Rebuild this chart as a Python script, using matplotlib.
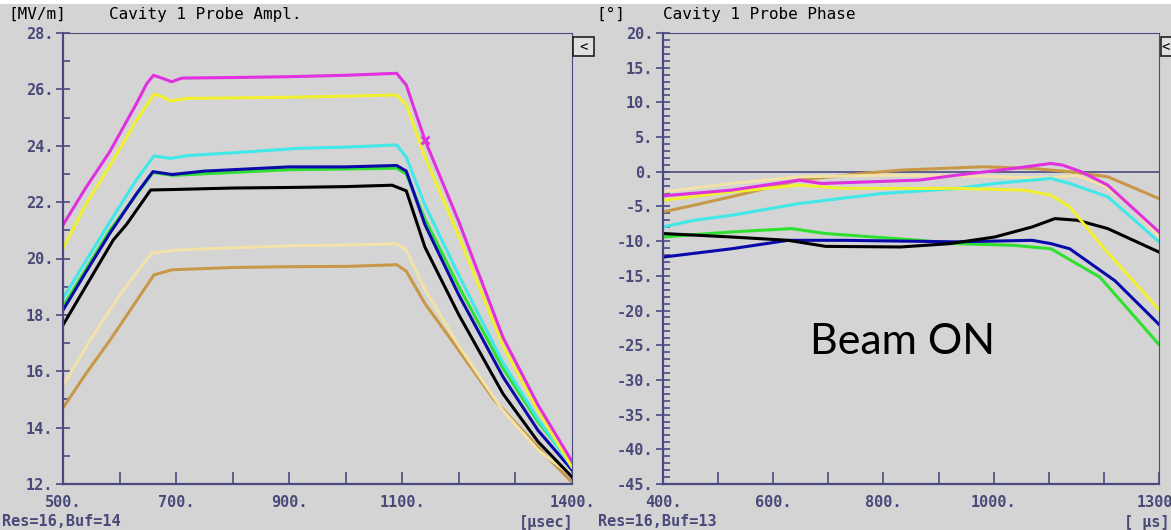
import matplotlib as mpl
mpl.use('Agg')
import matplotlib.pyplot as plt
from matplotlib.patches import Rectangle

# ---- left panel: Cavity 1 Probe Ampl. [MV/m] vs time [usec]
amp_tan_t = [500, 540, 583, 620, 661, 693, 800, 900, 1000, 1090, 1107, 1140, 1187, 1262, 1340, 1400]
amp_tan_v = [14.7, 15.9, 17.1, 18.2, 19.42, 19.6, 19.68, 19.71, 19.72, 19.78, 19.55, 18.4, 17.1, 15.0, 13.3, 12.06]
amp_pale_t = [500, 548, 600, 657, 700, 800, 900, 1000, 1090, 1107, 1140, 1200, 1278, 1340, 1400]
amp_pale_v = [15.5, 17.1, 18.7, 20.19, 20.3, 20.38, 20.45, 20.48, 20.52, 20.3, 18.9, 16.9, 14.6, 13.2, 12.3]
amp_black_t = [500, 540, 589, 612, 655, 700, 800, 900, 1000, 1082, 1107, 1140, 1200, 1278, 1340, 1400]
amp_black_v = [17.64, 19.0, 20.66, 21.2, 22.43, 22.45, 22.5, 22.52, 22.55, 22.6, 22.4, 20.4, 18.0, 15.2, 13.5, 12.25]
amp_green_t = [500, 583, 659, 693, 900, 1090, 1107, 1140, 1200, 1278, 1340, 1400]
amp_green_v = [18.3, 21.0, 23.05, 22.95, 23.15, 23.2, 23.0, 21.4, 19.0, 16.1, 14.2, 12.7]
amp_blue_t = [500, 540, 583, 630, 659, 693, 750, 900, 1000, 1090, 1107, 1140, 1200, 1278, 1340, 1400]
amp_blue_v = [18.17, 19.5, 20.9, 22.3, 23.08, 22.98, 23.1, 23.25, 23.25, 23.3, 23.1, 21.2, 18.7, 15.8, 13.9, 12.5]
amp_cyan_t = [500, 540, 583, 630, 661, 690, 720, 800, 919, 1000, 1090, 1107, 1140, 1200, 1278, 1340, 1400]
amp_cyan_v = [18.59, 19.9, 21.3, 22.8, 23.64, 23.55, 23.65, 23.75, 23.91, 23.95, 24.03, 23.6, 21.9, 19.4, 16.3, 14.3, 12.6]
amp_yellow_t = [500, 540, 583, 630, 661, 675, 689, 720, 900, 1000, 1090, 1107, 1140, 1200, 1278, 1340, 1400]
amp_yellow_v = [20.36, 21.9, 23.3, 24.9, 25.83, 25.75, 25.59, 25.68, 25.72, 25.76, 25.8, 25.45, 23.6, 20.8, 16.9, 14.6, 12.6]
amp_magenta_t = [500, 540, 583, 630, 648, 660, 675, 692, 710, 800, 900, 1000, 1090, 1107, 1140, 1200, 1278, 1340, 1400]
amp_magenta_v = [21.19, 22.5, 23.8, 25.5, 26.2, 26.5, 26.4, 26.27, 26.4, 26.42, 26.45, 26.5, 26.57, 26.15, 24.2, 21.3, 17.2, 14.8, 12.8]
cursor_t = 1140
cursor_v = 24.2

# ---- right panel: Cavity 1 Probe Phase [deg] vs time [us]
ph_tan_t = [400, 456, 524, 647, 763, 831, 981, 1070, 1138, 1207, 1300]
ph_tan_v = [-5.78, -4.82, -3.6, -1.2, -0.24, 0.24, 0.72, 0.48, 0.0, -0.72, -3.86]
ph_pale_t = [400, 524, 647, 800, 950, 1100, 1150, 1200, 1250, 1300]
ph_pale_v = [-2.9, -1.69, -0.72, -0.5, -0.6, -0.9, -0.5, -2.0, -5.0, -9.3]
ph_black_t = [400, 524, 627, 695, 831, 920, 1002, 1070, 1111, 1152, 1207, 1300]
ph_black_v = [-8.9, -9.4, -9.88, -10.75, -10.84, -10.36, -9.4, -7.95, -6.75, -6.99, -8.19, -11.57]
ph_green_t = [400, 524, 633, 695, 865, 934, 1036, 1104, 1193, 1300]
ph_green_v = [-9.4, -8.67, -8.19, -8.9, -9.88, -10.36, -10.6, -11.1, -15.2, -24.9]
ph_blue_t = [400, 524, 627, 729, 934, 1070, 1104, 1138, 1220, 1300]
ph_blue_v = [-12.3, -11.1, -9.88, -9.88, -10.1, -9.88, -10.36, -11.1, -15.7, -22.0]
ph_cyan_t = [400, 456, 524, 647, 797, 934, 1002, 1104, 1138, 1207, 1300]
ph_cyan_v = [-7.95, -7.0, -6.27, -4.58, -3.13, -2.41, -1.69, -0.96, -1.69, -3.61, -10.1]
ph_yellow_t = [400, 524, 647, 729, 934, 1056, 1104, 1138, 1200, 1300]
ph_yellow_v = [-4.1, -2.9, -1.93, -2.4, -2.4, -2.65, -3.37, -5.06, -11.0, -19.9]
ph_magenta_t = [400, 524, 647, 688, 865, 934, 1036, 1104, 1125, 1159, 1207, 1300]
ph_magenta_v = [-3.47, -2.65, -1.2, -1.69, -1.2, -0.48, 0.48, 1.2, 0.96, 0.0, -1.93, -8.67]

amp_xlabels = {500: '500.', 700: '700.', 900: '900.', 1100: '1100.', 1400: '1400.'}
ph_xlabels = {400: '400.', 600: '600.', 800: '800.', 1000: '1000.', 1300: '1300.'}

colors = {
    'tan': '#c89848', 'pale': '#f2e2a8', 'black': '#000000', 'green': '#30e030',
    'blue': '#0a0aa8', 'cyan': '#40e8e8', 'yellow': '#f0f030', 'magenta': '#e030e0',
}

bg = '#d4d4d4'
frame = '#4a4a80'
tickc = '#4a4a7a'
mono = 'DejaVu Sans Mono'

W, H = 1171, 530
fig = plt.figure(figsize=(W / 100, H / 100), dpi=100, facecolor=bg)

ax1 = fig.add_axes([63 / W, 46 / H, 509 / W, 451 / H])
ax2 = fig.add_axes([663 / W, 46 / H, 496 / W, 451 / H])


def style_axes(ax, xlim, ylim, xlabels, ymajor, ystep):
    ax.set_facecolor(bg)
    ax.set_xlim(*xlim)
    ax.set_ylim(*ylim)
    for s in ['left', 'bottom']:
        ax.spines[s].set_linewidth(1.6)
        ax.spines[s].set_color(frame)
    for s in ['top', 'right']:
        ax.spines[s].set_linewidth(0.8)
        ax.spines[s].set_color(frame)
    xt = list(range(xlim[0], xlim[1] + 1, 100))
    ax.set_xticks(xt, [xlabels.get(t, '') for t in xt])
    yt = list(range(ylim[0], ylim[1] + 1, ymajor))
    ax.set_yticks(yt, ['%d.' % v for v in yt])
    ax.set_yticks(list(range(ylim[0], ylim[1] + 1, ystep)), minor=True)
    ax.tick_params(axis='x', direction='in', length=9, width=1.2, color=frame,
                   labelsize=11, labelcolor=tickc, pad=8)
    ax.tick_params(axis='y', which='major', direction='inout', length=10, width=1.2,
                   color=frame, labelsize=11, labelcolor=tickc, pad=2)
    ax.tick_params(axis='y', which='minor', direction='in', length=5, width=1.2, color=frame)
    for lab in ax.get_xticklabels() + ax.get_yticklabels():
        lab.set_fontfamily(mono)
        lab.set_fontweight('bold')


style_axes(ax1, (500, 1400), (12, 28), amp_xlabels, 2, 1)
style_axes(ax2, (400, 1300), (-45, 20), ph_xlabels, 5, 1)

lw = 2.2
ax1.plot(amp_tan_t, amp_tan_v, color=colors['tan'], lw=lw)
ax1.plot(amp_pale_t, amp_pale_v, color=colors['pale'], lw=lw)
ax1.plot(amp_black_t, amp_black_v, color=colors['black'], lw=lw)
ax1.plot(amp_green_t, amp_green_v, color=colors['green'], lw=lw)
ax1.plot(amp_blue_t, amp_blue_v, color=colors['blue'], lw=lw)
ax1.plot(amp_cyan_t, amp_cyan_v, color=colors['cyan'], lw=lw)
ax1.plot(amp_yellow_t, amp_yellow_v, color=colors['yellow'], lw=lw)
ax1.plot(amp_magenta_t, amp_magenta_v, color=colors['magenta'], lw=lw)
ax1.plot([cursor_t], [cursor_v], marker='x', color=colors['magenta'], ms=6, mew=2)

ax2.axhline(0, color=frame, lw=1.2, zorder=1)
ax2.plot(ph_tan_t, ph_tan_v, color=colors['tan'], lw=lw)
ax2.plot(ph_pale_t, ph_pale_v, color=colors['pale'], lw=lw)
ax2.plot(ph_green_t, ph_green_v, color=colors['green'], lw=lw)
ax2.plot(ph_blue_t, ph_blue_v, color=colors['blue'], lw=lw)
ax2.plot(ph_black_t, ph_black_v, color=colors['black'], lw=lw)
ax2.plot(ph_cyan_t, ph_cyan_v, color=colors['cyan'], lw=lw)
ax2.plot(ph_yellow_t, ph_yellow_v, color=colors['yellow'], lw=lw)
ax2.plot(ph_magenta_t, ph_magenta_v, color=colors['magenta'], lw=lw)

ax2.text(835, -24.5, 'Beam ON', fontsize=31, family='Lato', color='black',
         ha='center', va='center')

# titles and footer texts
fig.text(8 / W, 1 - 14 / H, '[MV/m]', family=mono, fontsize=11.5, va='center')
fig.text(109 / W, 1 - 14 / H, 'Cavity 1 Probe Ampl.', family=mono, fontsize=11.5, va='center')
fig.text(596 / W, 1 - 14 / H, '[\u00b0]', family=mono, fontsize=11.5, va='center')
fig.text(663 / W, 1 - 14 / H, 'Cavity 1 Probe Phase', family=mono, fontsize=11.5, va='center')

fig.text(2 / W, 1 - 522 / H, 'Res=16,Buf=14', family=mono, fontsize=11, fontweight='bold',
         color=tickc, va='center')
fig.text(574 / W, 1 - 522 / H, '[\u00b5sec]', family=mono, fontsize=11, fontweight='bold',
         color=tickc, va='center', ha='right')
fig.text(598 / W, 1 - 522 / H, 'Res=16,Buf=13', family=mono, fontsize=11, fontweight='bold',
         color=tickc, va='center')
fig.text(1170 / W, 1 - 522 / H, '[ \u00b5s]', family=mono, fontsize=11, fontweight='bold',
         color=tickc, va='center', ha='right')

# small "<" buttons at the right edge of each plot
for bx, tx in [(573, 583.5), (1161, 1166)]:
    fig.patches.append(Rectangle((bx / W, 1 - 56 / H), 21 / W, 19 / H, transform=fig.transFigure,
                                 facecolor='#e0e0e0', edgecolor='#202020', lw=1.2))
    fig.text(tx / W, 1 - 46.5 / H, '<', family=mono, fontsize=10,
             ha='center', va='center', color='black')

# thin white strip at the very top
fig.patches.append(Rectangle((0, 1 - 4 / H), 1, 4 / H, transform=fig.transFigure,
                             facecolor='white', edgecolor='none'))

plt.savefig('out.png', dpi=100, facecolor=bg)
